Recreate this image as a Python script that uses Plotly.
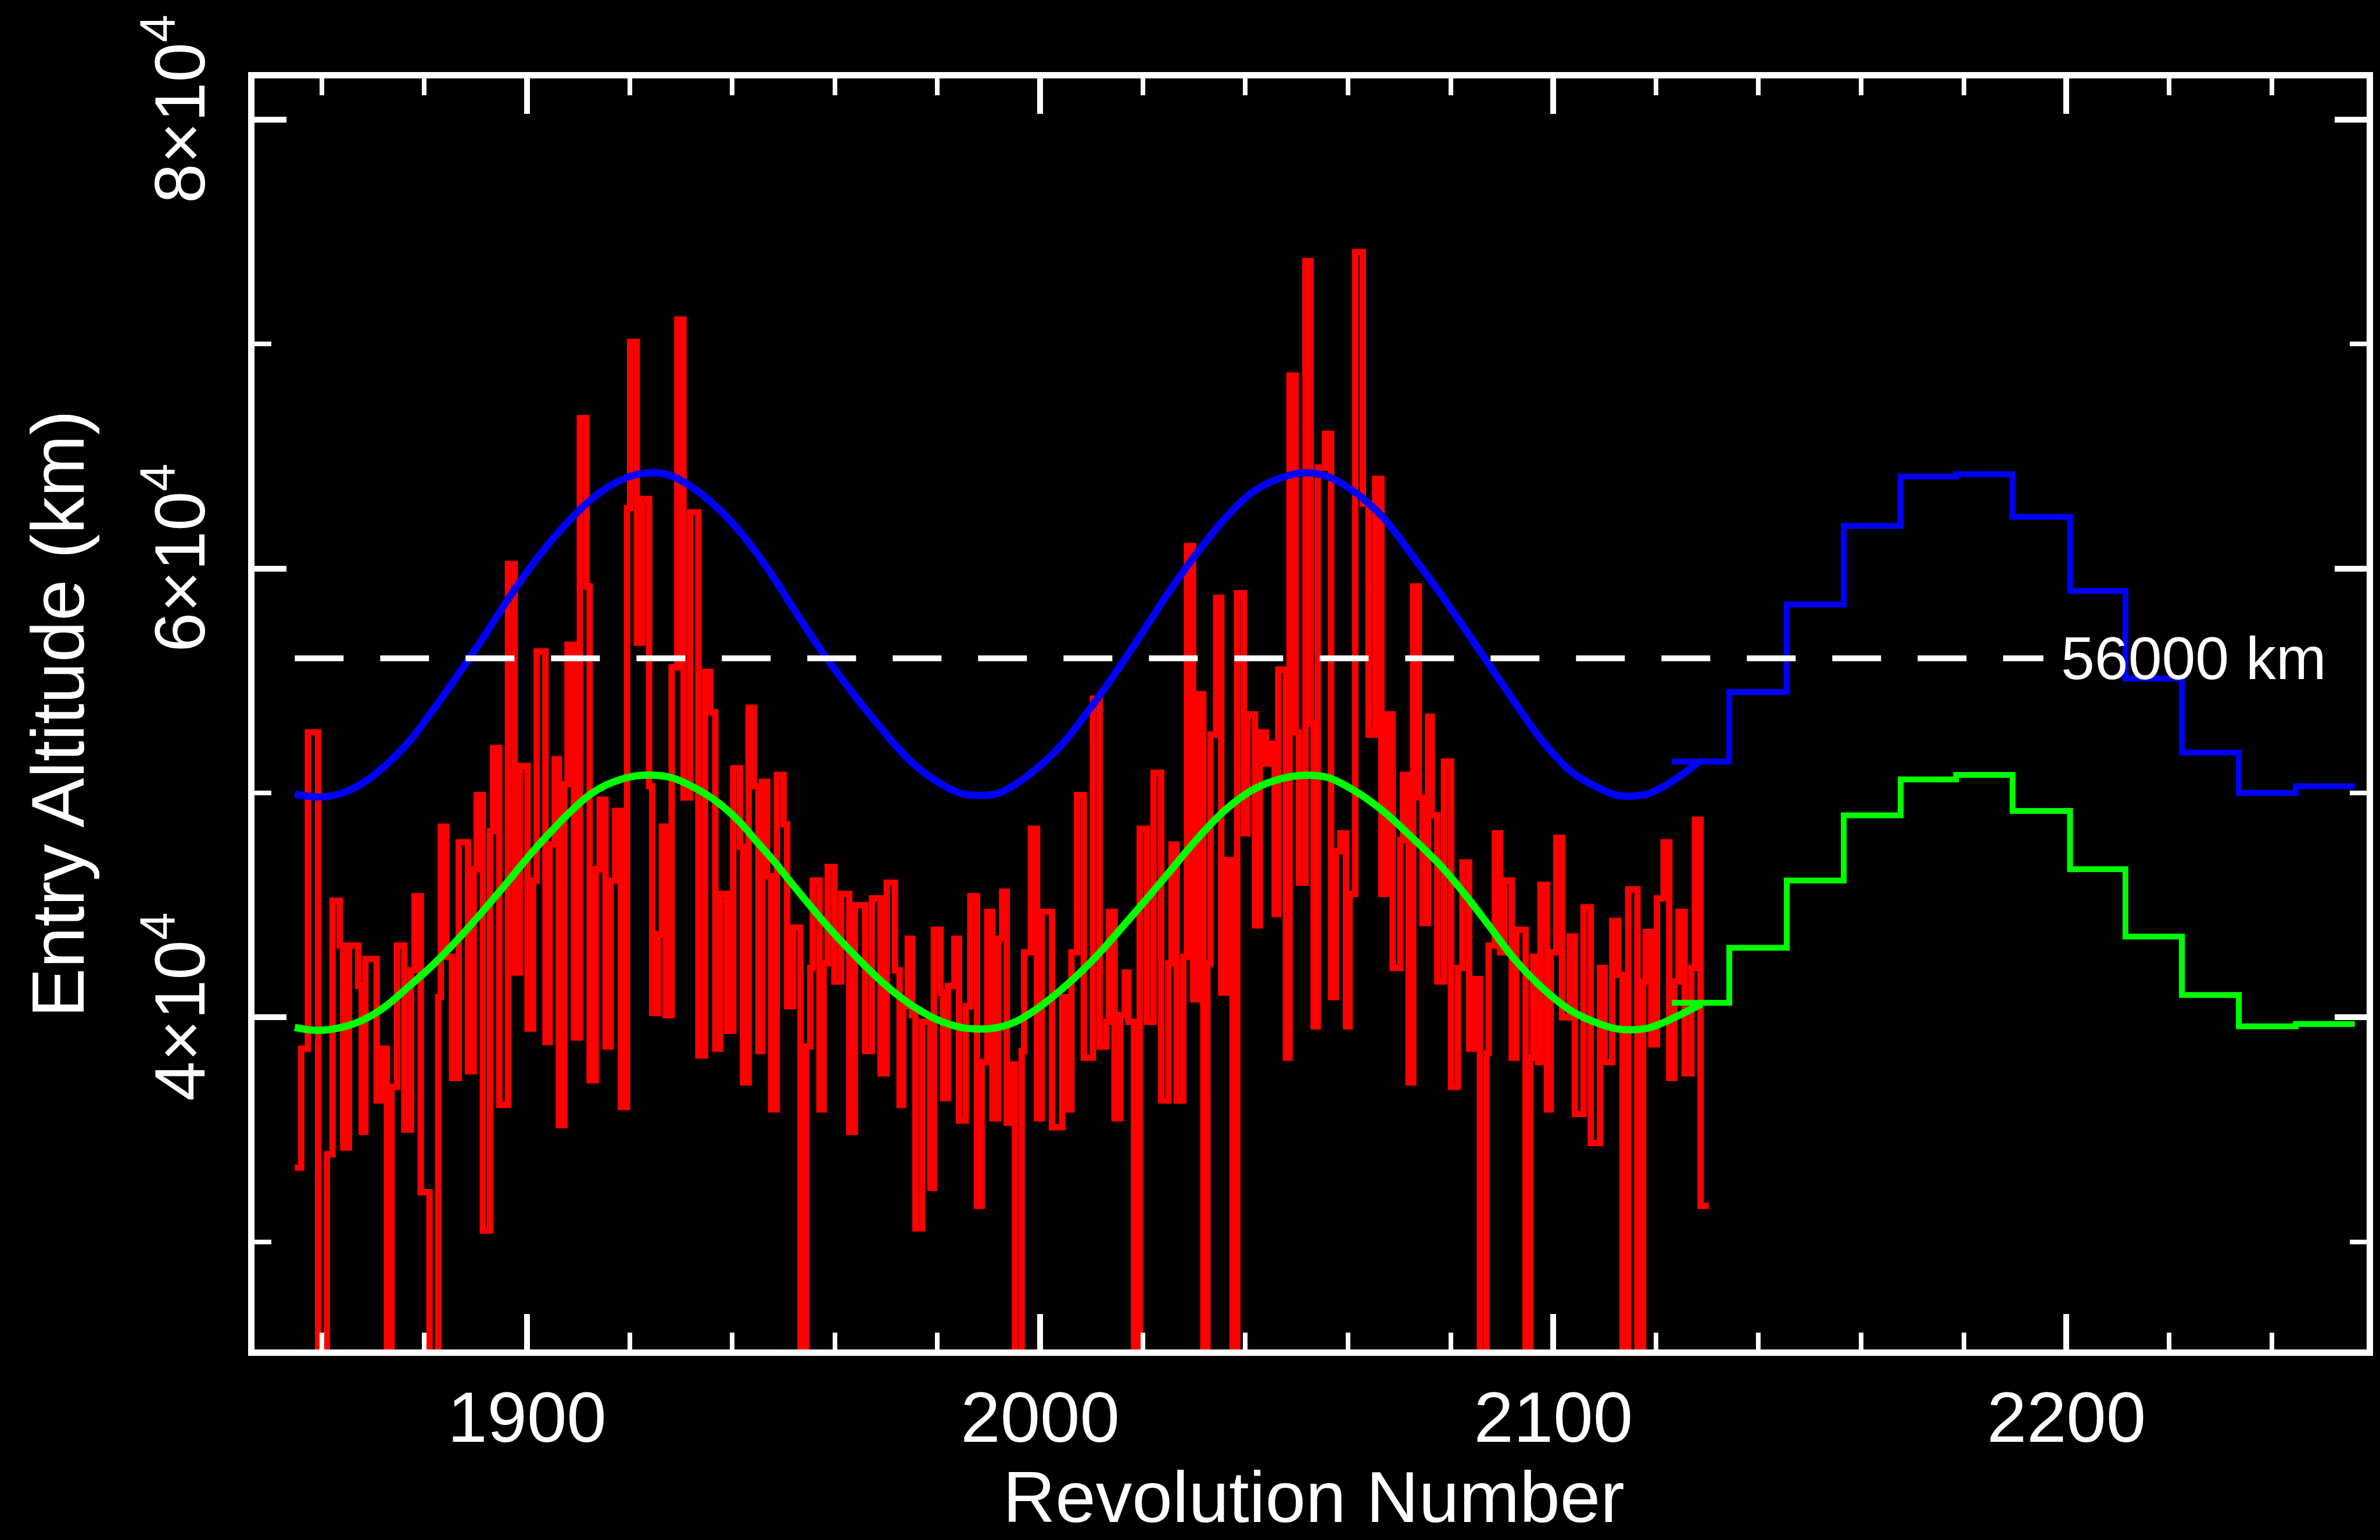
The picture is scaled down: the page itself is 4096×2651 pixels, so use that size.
import plotly.graph_objects as go

# Measured entry altitude per revolution (histogram-style steps: start revolution of each step, level in km)
red_rev = [
    1854.75, 1856.0, 1857.3, 1859.3, 1861.0, 1862.1, 1863.5, 1864.2, 1865.3, 1867.1,
    1867.8, 1868.5, 1870.7, 1871.6, 1872.7, 1873.6, 1874.7, 1876.1, 1877.4, 1878.1,
    1879.3, 1881.0, 1882.7, 1883.2, 1884.3, 1885.4, 1886.7, 1888.5, 1889.6, 1890.2,
    1891.4, 1892.8, 1893.4, 1894.6, 1896.3, 1897.6, 1898.6, 1900.1, 1901.2, 1901.9,
    1903.6, 1904.4, 1905.4, 1906.2, 1907.3, 1907.9,
    1909.15, 1910.3, 1911.6, 1912.2, 1913.4, 1914.15, 1915.3, 1916.3, 1917.2, 1918.3,
    1919.5, 1920.1, 1921.4, 1922.4, 1923.8, 1924.4, 1925.5, 1926.3, 1927.0, 1928.2,
    1929.3, 1930.5, 1931.8, 1933.4, 1934.7, 1935.7, 1936.7, 1937.6, 1939.0, 1940.2,
    1941.5, 1942.1, 1943.2, 1944.2, 1945.1, 1945.8, 1946.8, 1947.6, 1948.7, 1950.0,
    1950.7, 1951.9, 1953.3, 1954.4, 1955.2, 1955.7, 1957.0, 1957.8, 1958.6, 1959.9,
    1961.2, 1962.8, 1963.9,
    1965.9, 1967.2, 1968.9, 1970.1, 1971.7, 1972.6, 1973.3, 1974.2, 1975.0, 1975.7,
    1977.0, 1978.6, 1979.3, 1980.6, 1981.1, 1982.0, 1983.3, 1984.2, 1985.5, 1986.4,
    1987.7, 1988.6, 1989.7, 1990.7, 1991.8, 1992.6, 1993.5, 1994.2, 1995.1, 1996.4,
    1996.9, 1998.2, 1999.4, 2000.3, 2002.3, 2004.3, 2005.2, 2006.1, 2007.2, 2008.5,
    2010.3, 2011.6, 2012.9, 2013.4, 2014.5, 2015.6, 2016.5, 2017.2, 2018.3, 2019.4,
    2020.8,
    2022.1, 2023.6, 2025.0, 2025.6, 2026.6, 2027.9, 2028.6, 2029.8, 2030.8, 2031.8,
    2032.6, 2033.2, 2034.3, 2035.3, 2036.4, 2037.5, 2038.4, 2039.7, 2040.4, 2041.9,
    2042.8, 2044.0, 2045.0, 2045.7, 2046.4, 2047.9, 2048.6, 2049.8, 2050.4, 2051.7,
    2052.7, 2053.3, 2054.1, 2055.5, 2056.7, 2057.6, 2058.5, 2059.6, 2060.3, 2061.4,
    2062.9, 2064.0, 2065.3, 2066.5, 2067.6, 2068.7, 2070.2, 2070.7, 2071.8, 2072.7,
    2073.8, 2074.5, 2075.6, 2076.3, 2077.4,
    2078.7, 2080.1, 2081.4, 2082.3, 2083.6, 2084.5, 2085.7, 2087.0, 2087.4, 2088.6,
    2089.6, 2090.5, 2091.9, 2092.8, 2094.6, 2095.5, 2096.1, 2097.0, 2097.5, 2098.8,
    2099.5, 2100.6, 2101.7, 2103.2, 2104.2, 2105.9, 2107.3, 2109.1, 2110.0, 2111.5,
    2112.6, 2113.5, 2114.6, 2116.4, 2117.5, 2118.0, 2119.1, 2120.2, 2121.5, 2122.6,
    2123.6, 2124.4, 2125.6, 2126.9, 2127.6, 2128.7, 2130.3,
]
red_alt = [
    33300, 38600, 52700, 20000, 33900, 45200, 43200, 34200, 43200, 41400,
    34900, 42600, 36300, 38600, 20000, 36900, 43200, 35000, 42100, 45400,
    32200, 20000, 40900, 48500, 42700, 37300, 47800, 37600, 46600, 49900,
    30500, 48300, 52000, 36100, 60200, 42000, 51200, 39500, 46100, 56300,
    38900, 47700, 51500, 35200, 50400, 56600,
    39100, 66700, 59200, 37200, 46600, 49700, 38700, 46100, 49200, 36000,
    62700, 70100, 56700, 63100, 50300, 40200, 43700, 48500, 40100, 55600,
    71100, 49800, 62500, 38300, 55400, 53600, 38600, 45500, 39400, 51100,
    47600, 37100, 53800, 50300, 38500, 50500, 46300, 35900, 50800, 48600,
    40500, 44000, 20000, 38700, 42200, 46100, 35900, 42400, 46700, 41600,
    45500, 34900, 45000,
    38500, 45300, 37500, 46000, 42100, 36100, 40500, 43500, 40100, 30600,
    39800, 32400, 43900, 41100, 36400, 41400, 43500, 35400, 40500, 45400,
    31600, 38000, 44700, 35500, 43500, 45600, 35300, 37900, 20000, 38500,
    42900, 48400, 35500, 44700, 35100, 40900, 35900, 42900, 49900, 38200,
    54200, 38700, 39800, 44700, 35500, 40100, 42000, 39800, 20000, 48400,
    39800,
    50900, 36300, 42400, 47700, 36300, 42700, 61000, 40800, 54400, 20000,
    42400, 52600, 58700, 41100, 47000, 20000, 58900, 48200, 53500, 44100,
    52700, 51300, 52200, 44600, 55500, 38200, 68600, 52700, 46000, 73700,
    53100, 39600, 64500, 66000, 40900, 47400, 48200, 39600, 45500, 74100,
    62900, 52600, 64000, 45500, 53500, 42200, 47900, 50800, 37100, 59200,
    49800, 44200, 53400, 49000, 41600,
    51400, 36900, 42200, 46900, 38600, 41700, 20000, 38400, 43200, 48200,
    42900, 46100, 38200, 43900, 20000, 38200, 42700, 38000, 45900, 35900,
    42900, 48000, 40000, 43600, 35700, 44900, 34400, 42200, 38000, 44300,
    41900, 20000, 45700, 20000, 41600, 43800, 38800, 45300, 47800, 37300,
    41600, 44700, 37500, 42200, 48800, 31600, 31600,
]

# Fitted upper (blue) and lower (green) envelopes
fit_rev = [
    1854.75, 1859.1, 1863.8, 1868.2, 1872.2, 1877.2, 1881.9, 1886.7, 1891.7, 1896.5,
    1900.8, 1904.4, 1908.4, 1912.1, 1915.7, 1920.4, 1924.7, 1928.0, 1932.0, 1936.7,
    1941.1, 1944.7, 1948.3, 1951.9, 1955.6, 1959.2, 1965.0, 1968.6, 1972.2, 1975.9,
    1980.2, 1984.6, 1988.2, 1991.8, 1995.8, 1999.8, 2004.2, 2008.5, 2012.1, 2016.5,
    2021.6, 2025.2, 2030.6, 2036.1, 2041.5, 2046.9, 2051.7, 2056.0, 2061.4, 2066.9,
    2072.3, 2078.1, 2082.5, 2087.2, 2092.6, 2098.1, 2103.5, 2109.0, 2112.6, 2118.0,
    2121.6, 2125.3, 2128.9,
]
upper_fit = [
    49950, 49820, 49980, 50470, 51180, 52340, 53770, 55310, 57000, 58700,
    60100, 61150, 62180, 63000, 63620, 64130, 64270, 64140, 63650, 62800,
    61750, 60700, 59520, 58220, 56930, 55750, 54000, 53000, 52020, 51180,
    50470, 49980, 49890, 49980, 50470, 51180, 52150, 53380, 54510, 55960,
    57740, 59000, 60700, 62250, 63420, 64040, 64270, 64100, 63390, 62260,
    60650, 58850, 57400, 55820, 54000, 52250, 50950, 50210, 49890, 49930,
    50300, 50850, 51480,
]
lower_fit = [
    39550, 39420, 39550, 39900, 40450, 41420, 42390, 43520, 44810, 46110,
    47300, 48210, 49150, 49900, 50380, 50730, 50790, 50690, 50310, 49660,
    48790, 47850, 46910, 45880, 44860, 43900, 42500, 41700, 41000, 40400,
    39870, 39550, 39480, 39550, 39870, 40450, 41250, 42150, 43000, 44150,
    45500, 46480, 47950, 49250, 50150, 50630, 50790, 50690, 50080, 49180,
    48050, 46750, 45560, 44170, 42550, 41260, 40290, 39710, 39480, 39500,
    39780, 40180, 40600,
]

# Predicted envelopes, binned (start revolution of each bin, last entry closes the final bin)
pred_rev = [2123.1, 2134.3, 2145.5, 2156.6, 2167.7, 2178.5, 2189.5, 2200.7,
            2211.5, 2222.5, 2233.6, 2244.7, 2256.2]
upper_pred = [51400, 54500, 58400, 61900, 64100, 64200, 62300, 59000,
              55100, 51800, 50000, 50300, 50300]
lower_pred = [40650, 43100, 46100, 49000, 50600, 50800, 49200, 46600,
              43600, 41000, 39600, 39700, 39700]

# Reference altitude
threshold_rev = [1854.75, 2195.5]
threshold_alt = [56000, 56000]
threshold_label = "56000 km"

y_tickvals = [40000, 60000, 80000]
y_ticktext = ["4\u00d710<sup>4</sup>", "6\u00d710<sup>4</sup>", "8\u00d710<sup>4</sup>"]

FONT = "Liberation Sans, Arial, sans-serif"
WHITE = "#ffffff"

fig = go.Figure()
fig.add_trace(go.Scatter(x=red_rev, y=red_alt, mode="lines",
                         line=dict(color="#ff0000", width=11, shape="hv"),
                         showlegend=False, hoverinfo="skip"))
fig.add_trace(go.Scatter(x=fit_rev, y=upper_fit, mode="lines",
                         line=dict(color="#0000ff", width=12.5, shape="spline"),
                         showlegend=False, hoverinfo="skip"))
fig.add_trace(go.Scatter(x=fit_rev, y=lower_fit, mode="lines",
                         line=dict(color="#00ff00", width=12.5, shape="spline"),
                         showlegend=False, hoverinfo="skip"))
fig.add_trace(go.Scatter(x=pred_rev, y=upper_pred, mode="lines",
                         line=dict(color="#0000ff", width=10, shape="hv"),
                         showlegend=False, hoverinfo="skip"))
fig.add_trace(go.Scatter(x=pred_rev, y=lower_pred, mode="lines",
                         line=dict(color="#00ff00", width=10, shape="hv"),
                         showlegend=False, hoverinfo="skip"))
fig.add_trace(go.Scatter(x=threshold_rev, y=threshold_alt, mode="lines",
                         line=dict(color=WHITE, width=10, dash="84px,63px"),
                         showlegend=False, hoverinfo="skip"))

fig.add_annotation(x=2198.7, y=threshold_alt[0], xref="x", yref="y",
                   text=threshold_label, showarrow=False,
                   xanchor="left", yanchor="middle",
                   font=dict(family=FONT, size=104, color=WHITE))

# Axis titles
fig.add_annotation(x=0.5015, y=-0.1160, xref="paper", yref="paper",
                   text="Revolution Number", showarrow=False,
                   xanchor="center", yanchor="middle",
                   font=dict(family=FONT, size=125, color=WHITE))
fig.add_annotation(x=-0.0933, y=0.5, xref="paper", yref="paper",
                   text="Entry Altitude (km)", showarrow=False, textangle=-90,
                   xanchor="center", yanchor="middle",
                   font=dict(family=FONT, size=128, color=WHITE))

axis_common = dict(
    showgrid=False, zeroline=False,
    showline=True, linecolor=WHITE, linewidth=11,
    mirror="ticks", ticks="inside", tickcolor=WHITE,
    tickfont=dict(family=FONT, size=123, color=WHITE),
)

fig.update_layout(
    width=4096, height=2651,
    paper_bgcolor="#000000", plot_bgcolor="#000000",
    margin=dict(l=438, r=15, t=135, b=328),
    xaxis=dict(
        range=[1846.9, 2258.5],
        tickmode="linear", tick0=1900, dtick=100,
        ticklen=61, tickwidth=10,
        minor=dict(dtick=20, tick0=1900, ticklen=29, tickwidth=8,
                   ticks="inside", tickcolor=WHITE),
        **axis_common,
    ),
    yaxis=dict(
        range=[25200, 81840],
        tickmode="array", tickvals=y_tickvals, ticktext=y_ticktext,
        tickangle=-90, ticklabelstandoff=26,
        ticklen=55, tickwidth=10,
        minor=dict(tickmode="array", tickvals=[30000, 50000, 70000],
                   ticklen=29, tickwidth=8, ticks="inside", tickcolor=WHITE),
        **axis_common,
    ),
)

fig.write_html("out.html")
